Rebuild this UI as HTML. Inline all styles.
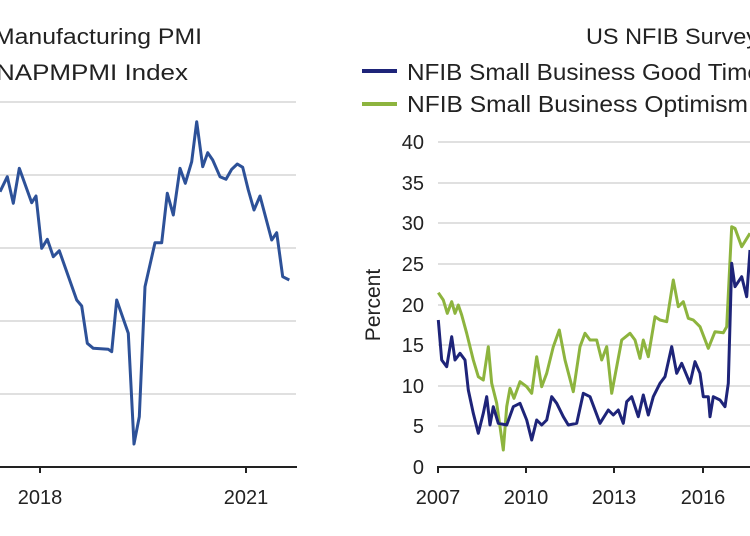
<!DOCTYPE html>
<html><head><meta charset="utf-8"><style>
html,body{margin:0;padding:0;background:#fff;width:750px;height:536px;overflow:hidden}
svg text{font-family:"Liberation Sans",sans-serif;fill:#222}
</style></head><body>
<svg id="s" width="750" height="536" viewBox="0 0 750 536" xmlns="http://www.w3.org/2000/svg">
<g stroke="#d6d6d6" stroke-width="1.5">
<line x1="0" y1="102" x2="296" y2="102"/><line x1="0" y1="175" x2="296" y2="175"/>
<line x1="0" y1="248" x2="296" y2="248"/><line x1="0" y1="321" x2="296" y2="321"/>
<line x1="0" y1="394" x2="296" y2="394"/>
<line x1="438" y1="142" x2="750" y2="142"/><line x1="438" y1="183" x2="750" y2="183"/>
<line x1="438" y1="223" x2="750" y2="223"/><line x1="438" y1="264" x2="750" y2="264"/>
<line x1="438" y1="305" x2="750" y2="305"/><line x1="438" y1="345" x2="750" y2="345"/>
<line x1="438" y1="386" x2="750" y2="386"/><line x1="438" y1="426" x2="750" y2="426"/>
</g>
<g stroke="#222" stroke-width="2">
<line x1="0" y1="467" x2="297" y2="467"/><line x1="40" y1="467" x2="40" y2="473"/><line x1="246" y1="467" x2="246" y2="473"/>
<line x1="437" y1="467" x2="750" y2="467"/>
<line x1="438" y1="467" x2="438" y2="473"/><line x1="526" y1="467" x2="526" y2="473"/><line x1="614" y1="467" x2="614" y2="473"/><line x1="703" y1="467" x2="703" y2="473"/>
</g>
<polyline id="pmi" fill="none" stroke="#2d5198" stroke-width="3" stroke-linejoin="round"/>
<polyline id="grn" fill="none" stroke="#8db43e" stroke-width="3" stroke-linejoin="round"/>
<polyline id="blu" fill="none" stroke="#1e2479" stroke-width="3" stroke-linejoin="round"/>
<text x="-6" y="44" font-size="22" textLength="208" lengthAdjust="spacingAndGlyphs">Manufacturing PMI</text>
<text x="-4" y="80" font-size="22" textLength="192" lengthAdjust="spacingAndGlyphs">NAPMPMI Index</text>
<text x="586" y="44" font-size="22" textLength="172" lengthAdjust="spacingAndGlyphs">US NFIB Survey</text>
<line x1="362" y1="71" x2="397" y2="71" stroke="#1e2479" stroke-width="4"/>
<text x="407" y="80" font-size="23" textLength="366" lengthAdjust="spacingAndGlyphs">NFIB Small Business Good Times</text>
<line x1="362" y1="104" x2="397" y2="104" stroke="#8db43e" stroke-width="4"/>
<text x="407" y="112" font-size="23" textLength="341" lengthAdjust="spacingAndGlyphs">NFIB Small Business Optimism</text>
<g font-size="20" text-anchor="end">
<text x="424" y="149">40</text><text x="424" y="190">35</text><text x="424" y="230">30</text>
<text x="424" y="271">25</text><text x="424" y="312">20</text><text x="424" y="352">15</text>
<text x="424" y="393">10</text><text x="424" y="433">5</text><text x="424" y="474">0</text>
</g>
<text transform="translate(380,305) rotate(-90)" font-size="21" text-anchor="middle">Percent</text>
<g font-size="20" text-anchor="middle">
<text x="40" y="504">2018</text><text x="246" y="504">2021</text>
<text x="438" y="504">2007</text><text x="526" y="504">2010</text><text x="614" y="504">2013</text><text x="703" y="504">2016</text>
</g>
</svg>
<script>
function pts(a,ox,oy){var r=[];for(var i=0;i<a.length;i+=2)r.push((a[i]/3+ox).toFixed(1)+","+(a[i+1]/3+oy).toFixed(1));return r.join(" ");}
var pmi=[0,335,22,290,40,370,58,265,95,368,108,348,125,505,142,478,160,530,178,512,230,660,245,678,262,790,280,805,325,808,335,815,350,660,385,760,402,1092,418,1010,435,620,465,488,485,488,502,340,520,405,540,265,556,310,575,245,590,125,608,260,623,218,638,240,660,290,678,298,695,268,712,252,728,262,745,330,762,390,780,348,815,480,830,458,848,590,868,600];
var g=[235,518,250,540,262,580,275,545,285,580,295,555,305,585,320,640,340,720,355,770,370,780,385,680,395,790,410,850,430,990,440,860,450,805,462,835,480,785,500,800,515,820,530,710,545,800,560,760,580,680,598,630,615,720,640,815,660,680,675,640,690,660,710,660,725,720,740,680,755,820,770,740,785,660,810,640,825,660,840,715,850,660,865,710,885,590,900,600,920,605,940,480,955,560,970,545,985,595,1000,600,1020,620,1045,685,1065,635,1090,638,1100,620,1115,320,1125,325,1145,380,1170,340];
var b=[235,600,245,720,260,740,275,650,285,720,300,700,315,720,325,810,340,880,355,940,370,880,380,830,390,915,400,860,415,910,440,915,460,860,480,850,500,900,515,960,530,900,545,915,560,900,575,830,590,850,610,890,625,915,650,910,670,820,690,830,720,910,745,870,760,885,775,870,790,910,800,845,815,830,835,890,850,825,865,885,880,830,900,790,915,770,935,680,950,760,965,730,990,790,1005,725,1020,760,1030,830,1045,830,1050,890,1060,830,1080,840,1095,860,1105,790,1115,430,1125,500,1145,470,1160,530,1170,390];
document.getElementById('pmi').setAttribute('points',pts(pmi,0,80));
document.getElementById('grn').setAttribute('points',pts(g,360,120));
document.getElementById('blu').setAttribute('points',pts(b,360,120));
</script>
</body></html>
